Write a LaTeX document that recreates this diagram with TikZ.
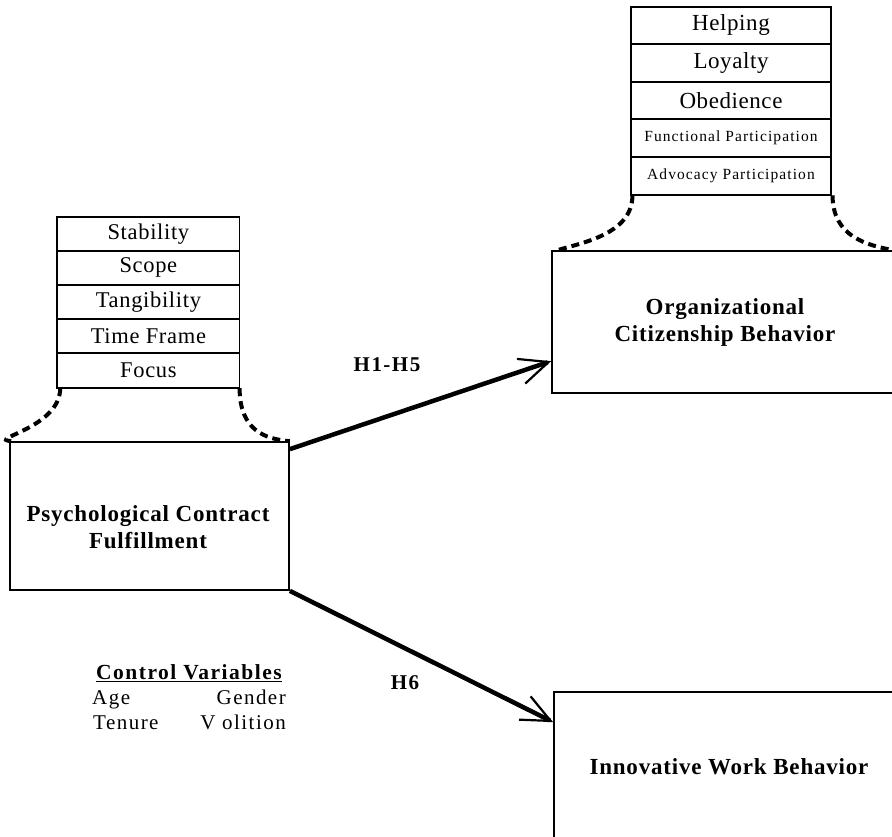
\documentclass[tikz,border=0pt]{standalone}
\usepackage{fontspec}
\setmainfont{Liberation Serif}
\usetikzlibrary{arrows.meta,calc}
\tikzset{
  cellL/.style={draw, line width=1.1pt, minimum width=181.3pt, minimum height=33pt, inner sep=0pt, anchor=north,
    font=\fontsize{22.5}{26}\selectfont\addfontfeature{LetterSpace=3}},
  cellT/.style={draw, line width=1.1pt, minimum width=200pt, minimum height=36.4pt, inner sep=0pt, anchor=north,
    font=\fontsize{23}{26}\selectfont\addfontfeature{LetterSpace=2.5}},
  cellTs/.style={cellT, font=\fontsize{15.5}{18}\selectfont\addfontfeature{LetterSpace=7}},
  bigbox/.style={draw, line width=1.7pt, inner sep=0pt, align=center,
    font=\fontsize{23}{27}\selectfont\bfseries\addfontfeature{LetterSpace=3.5}},
  lbl/.style={inner sep=0pt, font=\fontsize{21}{24}\selectfont\bfseries\addfontfeature{LetterSpace=7}},
  cvtitle/.style={inner sep=0pt, font=\fontsize{21.5}{24}\selectfont\bfseries\addfontfeature{LetterSpace=7}},
  cvtxt/.style={inner sep=0pt, font=\fontsize{21}{24}\selectfont\addfontfeature{LetterSpace=7}},
  dashcurve/.style={line width=4pt, dash pattern=on 8pt off 5pt},
  arrowline/.style={line width=4.5pt, -{Straight Barb[length=29pt,width=26pt,line width=2.2pt]}},
}
\begin{document}
\begin{tikzpicture}[x=1pt,y=-1pt]
\useasboundingbox (0,0) rectangle (892,837);
\clip (0,0) rectangle (892,837);

% left stack
\node[cellL] (l1) at (148.4,216.7) {Stability};
\node[cellL] (l2) at (l1.south) {Scope};
\node[cellL] (l3) at (l2.south) {Tangibility};
\node[cellL] (l4) at (l3.south) {Time Frame};
\node[cellL, minimum height=34pt] (l5) at (l4.south) {Focus};
\draw[line width=1.7pt] (l1.north west) rectangle (l5.south east);

% top stack
\node[cellT] (t1) at (731,6.7) {Helping};
\node[cellT] (t2) at (t1.south) {Loyalty};
\node[cellT] (t3) at (t2.south) {Obedience};
\node[cellTs] (t4) at (t3.south) {Functional Participation};
\node[cellTs, minimum height=37.5pt] (t5) at (t4.south) {Advocacy Participation};
\draw[line width=1.7pt] (t1.north west) rectangle (t5.south east);

% main boxes
\node[bigbox, minimum width=279pt, minimum height=148pt] (pcf) at (149.5,516) {};
\node[bigbox, draw=none] (pcftext) at (148,527) {Psychological Contract\\Fulfillment};
\node[bigbox, minimum width=346pt, minimum height=142pt] (ocb) at (725,322) {Organizational\\Citizenship Behavior};
\node[bigbox, minimum width=350pt, minimum height=150pt] (iwb) at (729,767) {Innovative Work Behavior};

% dashed connectors
\draw[dashcurve] ($(l5.south west)+(3,0)$) .. controls +(0,40) and +(-25,-2) .. ($(pcf.north west)+(2,0)$);
\draw[dashcurve] ($(l5.south east)+(0,0)$) .. controls +(0,42) and +(-25,-2) .. ($(pcf.north east)+(0,0)$);
\draw[dashcurve] ($(t5.south west)+(2,0)$) .. controls +(0,40) and +(25,-8) .. ($(ocb.north west)+(3,1)$);
\draw[dashcurve] ($(t5.south east)+(1,0)$) .. controls +(0,42) and +(-25,-5) .. ($(ocb.north east)+(-6,0)$);

% arrows
\draw[arrowline] ($(pcf.north east)+(0,8)$) -- ($(ocb.north west)+(0,111)$);
\draw[arrowline] (pcf.south east) -- ($(iwb.north west)+(0,31)$);
\node[lbl] (h15) at (387,365) {H1-H5};
\node[lbl] (h6) at (405,683) {H6};

% control variables
\node[cvtitle, anchor=base] (cvt) at (189,679) {\underline{Control Variables}};
\node[cvtxt, anchor=base west] (age) at (92,704) {Age};
\node[cvtxt, anchor=base east] (gender) at (286,704) {Gender};
\node[cvtxt, anchor=base west] (tenure) at (93,729) {Tenure};
\node[cvtxt, anchor=base east] (volition) at (286,729) {V olition};
\end{tikzpicture}
\end{document}
